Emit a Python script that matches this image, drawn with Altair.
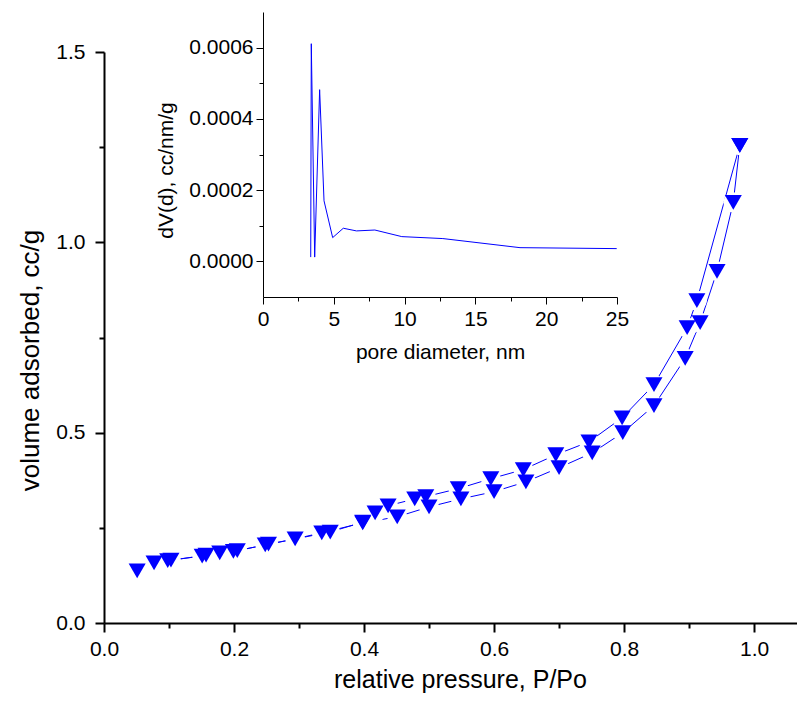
import altair as alt
import pandas as pd

# Isotherm: adsorption branch (lower) and desorption branch (upper)
ads_x = [0.051, 0.077, 0.098, 0.151, 0.199, 0.248, 0.294, 0.335, 0.398, 0.451, 0.500,
         0.549, 0.600, 0.649, 0.700, 0.751, 0.798, 0.846, 0.894, 0.917, 0.943, 0.968, 0.978]
ads_y = [0.137, 0.158, 0.164, 0.176, 0.188, 0.205, 0.221, 0.237, 0.263, 0.279, 0.305,
         0.326, 0.345, 0.371, 0.408, 0.447, 0.500, 0.571, 0.695, 0.789, 0.924, 1.105, 1.255]

des_x = [0.978, 0.912, 0.897, 0.846, 0.797, 0.746, 0.695, 0.645, 0.595, 0.545, 0.495,
         0.478, 0.437, 0.417, 0.398, 0.348, 0.253, 0.205, 0.178, 0.157, 0.103]
des_y = [1.255, 0.847, 0.776, 0.626, 0.539, 0.476, 0.442, 0.403, 0.379, 0.353, 0.332,
         0.326, 0.308, 0.289, 0.265, 0.239, 0.207, 0.190, 0.184, 0.178, 0.165]

# Inset: pore size distribution
psd_d = [3.37, 3.41, 3.65, 4.00, 4.31, 4.92, 5.67, 6.6, 7.9, 9.8, 12.7, 18.15, 24.98]
psd_v = [0.000012, 0.000611, 0.000012, 0.000482, 0.000170, 0.0000667, 0.000093,
         0.0000855, 0.000088, 0.0000695, 0.000064, 0.0000385, 0.0000358]

main_x_ticks = [round(i * 0.1, 1) for i in range(11)]
main_y_ticks = [round(i * 0.25, 2) for i in range(7)]
inset_x_ticks = [i * 2.5 for i in range(11)]
inset_y_ticks = [round(i * 0.0001, 4) for i in range(7)]

BLUE = "#0000FF"
FONT = "Liberation Sans"
W, H = 693, 571

ads = pd.DataFrame({"p": ads_x, "v": ads_y, "i": range(len(ads_x)), "branch": "ads"})
des = pd.DataFrame({"p": des_x, "v": des_y, "i": range(len(des_x)), "branch": "des"})
iso = pd.concat([ads, des], ignore_index=True)
psd = pd.DataFrame({"d": psd_d, "dv": psd_v, "i": range(len(psd_d))})


def axis_common(**kw):
    base = dict(grid=False, domainColor="black", tickColor="black",
                labelColor="black", titleColor="black", labelFont=FONT, titleFont=FONT,
                titleFontWeight="normal", labelOverlap=False, labelFlush=False)
    base.update(kw)
    return alt.Axis(**base)


main_x_axis = axis_common(
    title="relative pressure, P/Po", orient="bottom",
    values=main_x_ticks,
    labelExpr="round(datum.value*10) % 2 === 0 ? format(datum.value, '.1f') : ''",
    tickSize={"condition": {"test": "round(datum.value*10) % 2 === 0", "value": 9}, "value": 5},
    domainWidth=2, tickWidth=2, labelFontSize=21, titleFontSize=25,
    labelPadding=6, titlePadding=8, titleX=356,
)
main_y_axis = axis_common(
    title="volume adsorbed, cc/g", orient="left",
    values=main_y_ticks,
    labelExpr="round(datum.value*4) % 2 === 0 ? format(datum.value, '.1f') : ''",
    tickSize={"condition": {"test": "round(datum.value*4) % 2 === 0", "value": 9}, "value": 5},
    domainWidth=2, tickWidth=2, labelFontSize=21, titleFontSize=26,
    labelPadding=10, titlePadding=12, titleY=308,
)

xm = alt.X("p:Q", scale=alt.Scale(domain=[0, 1.066], nice=False, zero=False), axis=main_x_axis)
ym = alt.Y("v:Q", scale=alt.Scale(domain=[0, 1.5], nice=False, zero=False), axis=main_y_axis)

lines = alt.Chart(iso).mark_line(color=BLUE, strokeWidth=1).encode(
    x=xm, y=ym, detail="branch:N", order="i:Q")
halo = alt.Chart(iso).mark_point(shape="circle", filled=True, size=400,
                                 color="white", opacity=1).encode(x=xm, y=ym)
points = alt.Chart(iso).mark_point(shape="triangle-down", filled=True, size=290,
                                   color=BLUE, opacity=1).encode(x=xm, y=ym)
main = alt.layer(lines, halo, points)

inset_x_axis = axis_common(
    title="pore diameter, nm", orient="bottom", offset=-326,
    values=inset_x_ticks,
    labelExpr="round(datum.value*2) % 2 === 0 ? format(datum.value, 'd') : ''",
    tickSize={"condition": {"test": "round(datum.value*2) % 2 === 0", "value": 7}, "value": 4},
    domainWidth=1, tickWidth=1, labelFontSize=21, titleFontSize=21,
    labelPadding=4, titlePadding=12,
)
inset_y_axis = axis_common(
    title="dV(d), cc/nm/g", orient="left", offset=-159,
    values=inset_y_ticks,
    labelExpr="round(datum.value*10000) % 2 === 0 ? format(datum.value, '.4f') : ''",
    tickSize={"condition": {"test": "round(datum.value*10000) % 2 === 0", "value": 7}, "value": 4},
    domainWidth=1, tickWidth=1, labelFontSize=21, titleFontSize=21,
    labelPadding=3, titlePadding=12, titleY=118,
)

inset = alt.Chart(psd).mark_line(color=BLUE, strokeWidth=1).encode(
    x=alt.X("d:Q", scale=alt.Scale(domain=[0, 25], range=[159, 513], nice=False, zero=False),
            axis=inset_x_axis),
    y=alt.Y("dv:Q", scale=alt.Scale(domain=[-0.0001, 0.0007], range=[245, -40], nice=False,
                                    zero=False), axis=inset_y_axis),
    order="i:Q",
)

chart = alt.layer(main, inset).resolve_scale(x="independent", y="independent").properties(
    width=W, height=H,
    autosize=alt.AutoSizeParams(type="none"),
    padding={"left": 96, "top": 44, "right": 0, "bottom": 74},
).configure(font=FONT, background="white").configure_view(stroke=None)

chart.save("out.html", embed_options={"renderer": "svg", "actions": False})
